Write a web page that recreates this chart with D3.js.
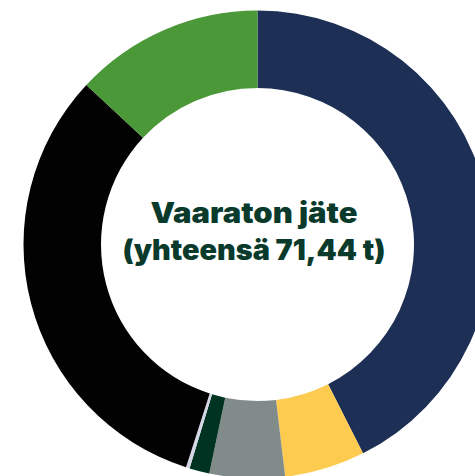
<!DOCTYPE html>
<html>
<head>
<meta charset="utf-8">
<script src="https://cdn.jsdelivr.net/npm/d3@7"></script>
<style>
  html, body { margin: 0; padding: 0; background: #fff; }
  svg { display: block; }
</style>
</head>
<body>
<div class="chart"></div>
<script>
// waste fractions, tonnes (total 71.44 t)
var categories = ['Jae 1', 'Jae 2', 'Jae 3', 'Jae 4', 'Jae 5', 'Jae 6', 'Jae 7'];
var values = [30.40, 3.97, 3.71, 0.99, 0.18, 22.86, 9.33];
var colors = ['#1d2f54', '#fccb50', '#818c8a', '#003322', '#d4d7e6', '#020202', '#4a9837'];
var titleLines = ['Vaaraton jäte', '(yhteensä 71,44 t)'];

var width = 475;
var height = 476;
var cx = 257.5, cy = 244.5;
var outerR = 234, innerR = 156.5;
// rendered widths of the two title lines (wide geometric face in the original)
var titleWidths = [207, 263];

var data = categories.map((c, i) => ({ name: c, value: values[i], color: colors[i] }));

var svg = d3.select('.chart')
  .append('svg')
  .attr('width', width)
  .attr('height', height);

var g = svg.append('g')
  .attr('transform', `translate(${cx}, ${cy})`);

var pie = d3.pie()
  .sort(null)
  .value(d => d.value);

var arc = d3.arc()
  .innerRadius(innerR)
  .outerRadius(outerR);

g.selectAll('.slice')
  .data(pie(data))
  .enter()
  .append('path')
  .attr('class', 'slice')
  .attr('d', arc)
  .style('fill', d => d.data.color);

g.selectAll('.title')
  .data(titleLines)
  .enter()
  .append('text')
  .attr('class', 'title')
  .attr('text-anchor', 'middle')
  .attr('x', -3.5)
  .attr('y', (d, i) => -22 + i * 37)
  .attr('textLength', (d, i) => titleWidths[i])
  .attr('lengthAdjust', 'spacingAndGlyphs')
  .style('font-family', 'Inter, sans-serif')
  .style('font-weight', 900)
  .style('font-size', '28px')
  .style('fill', '#093a2b')
  .text(d => d);
</script>
</body>
</html>
